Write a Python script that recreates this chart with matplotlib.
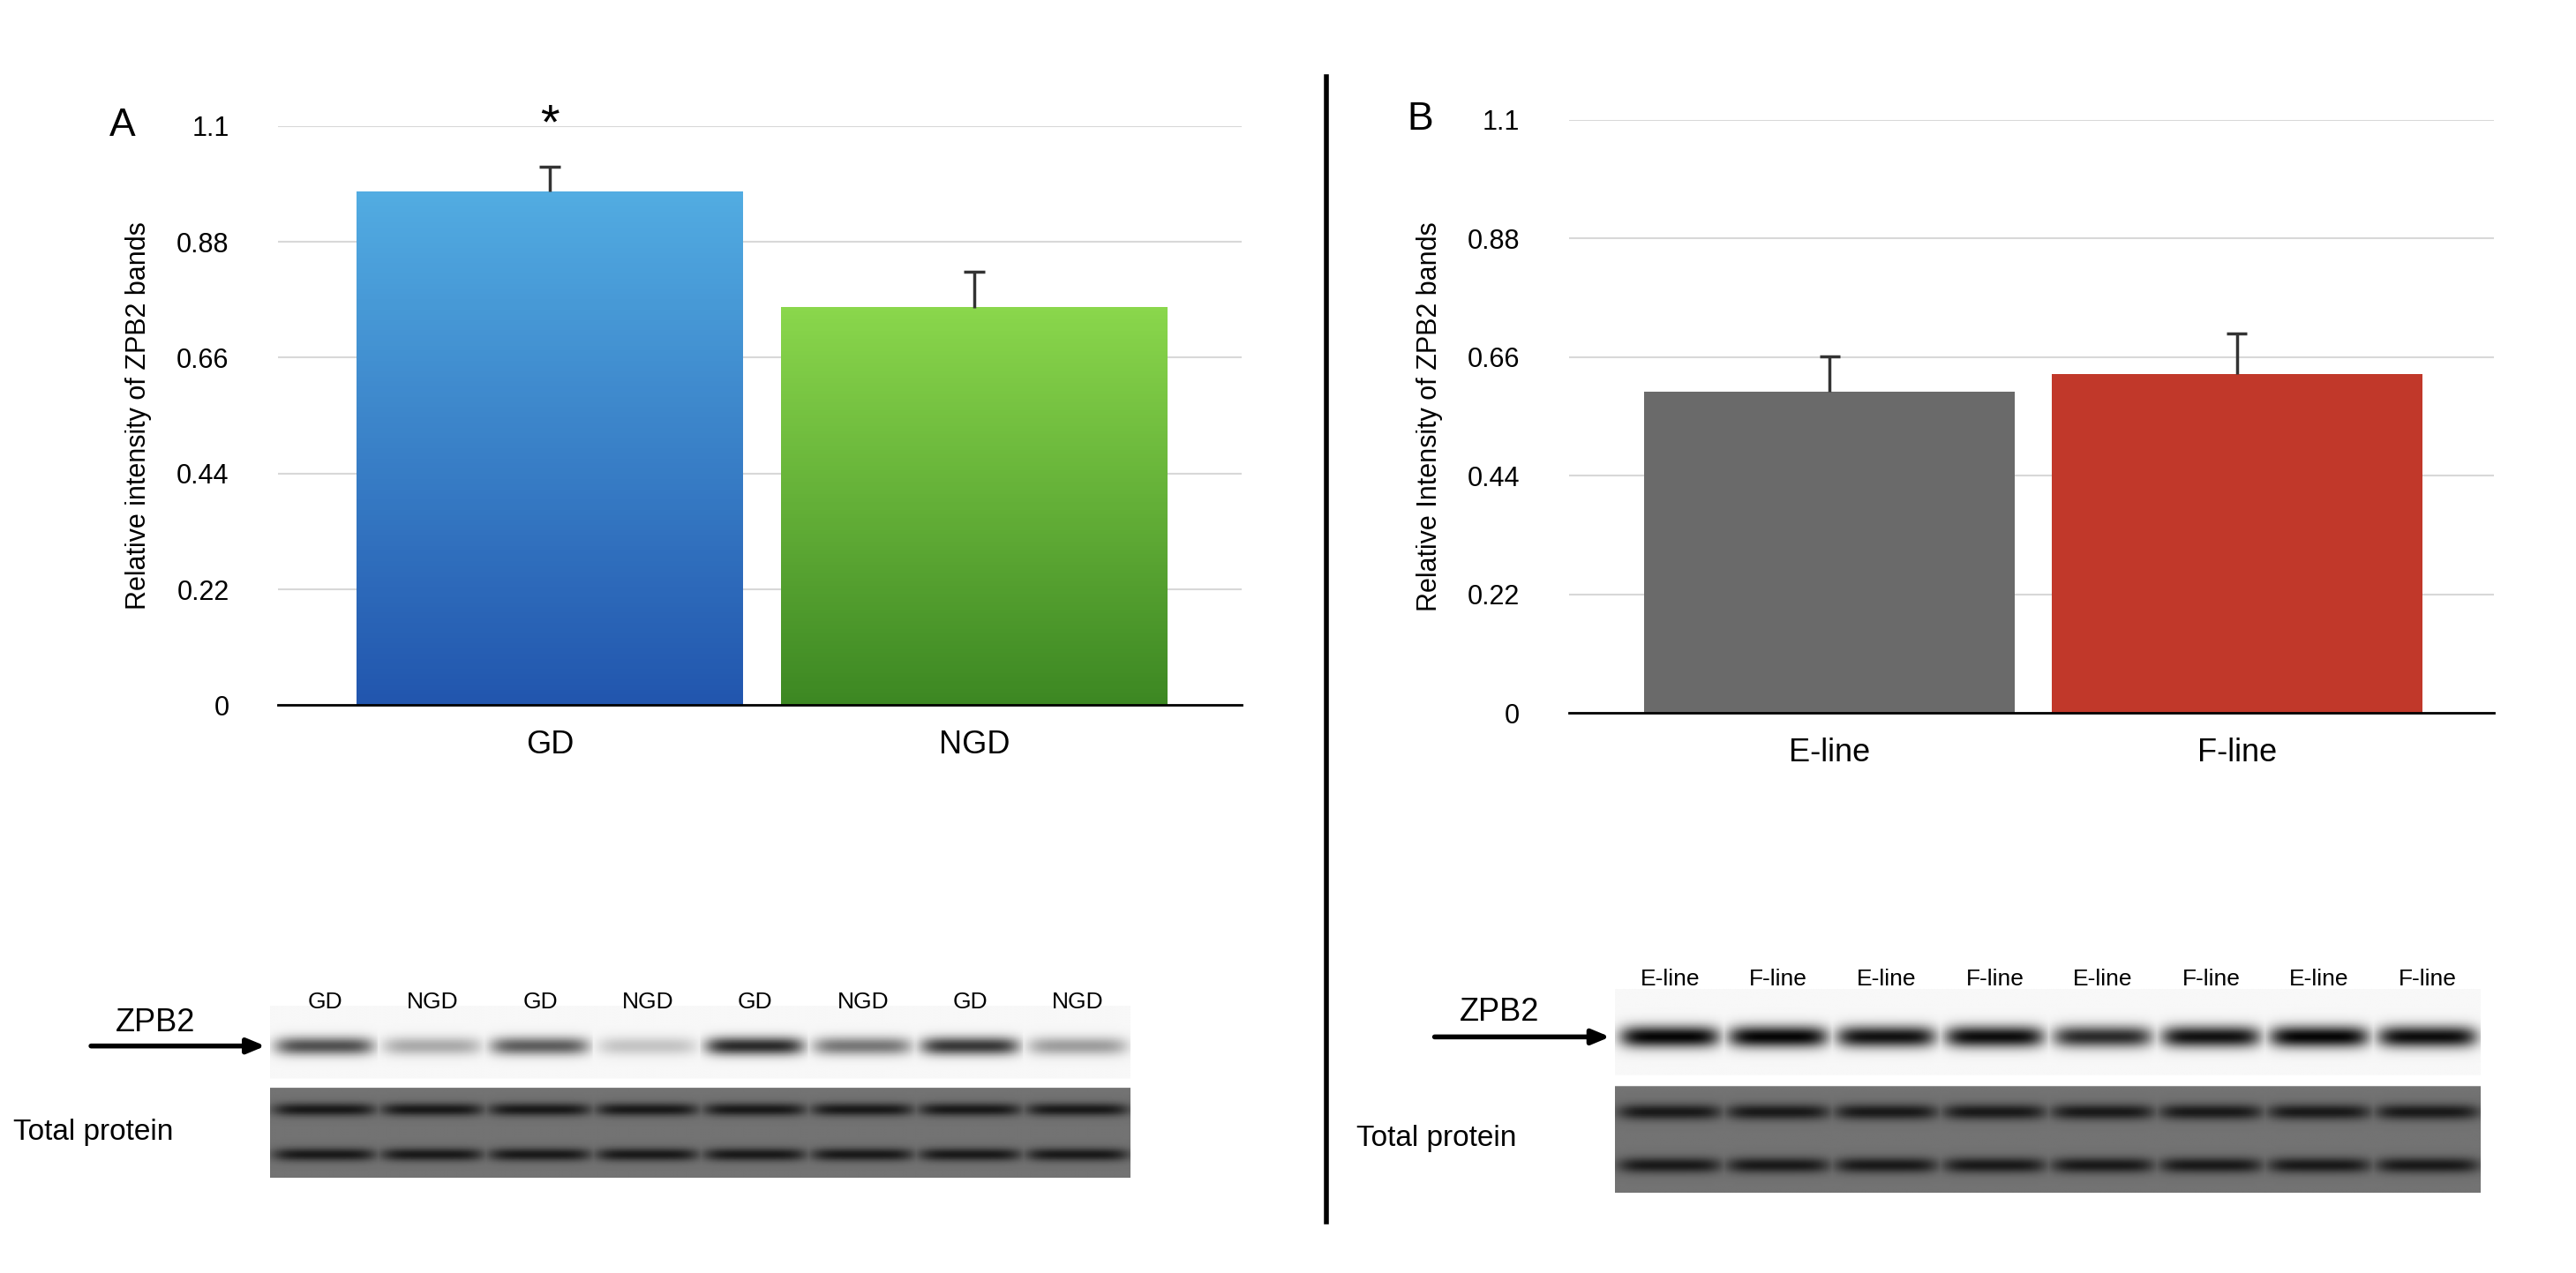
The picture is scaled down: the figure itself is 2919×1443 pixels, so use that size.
import matplotlib.pyplot as plt
import matplotlib.colors as mcolors
import numpy as np

# panel A
cats_a = ['GD', 'NGD']
vals_a = [0.975, 0.755]
errs_a = [0.048, 0.068]
# panel B
cats_b = ['E-line', 'F-line']
vals_b = [0.595, 0.628]
errs_b = [0.066, 0.075]
yticks = [0, 0.22, 0.44, 0.66, 0.88, 1.1]
ytick_labels = ['0', '0.22', '0.44', '0.66', '0.88', '1.1']

# blot lanes and band strengths (0..1)
lanes_a = ['GD', 'NGD', 'GD', 'NGD', 'GD', 'NGD', 'GD', 'NGD']
zpb2_a = [0.65, 0.3, 0.6, 0.2, 0.8, 0.5, 0.75, 0.35]
lanes_b = ['E-line', 'F-line', 'E-line', 'F-line', 'E-line', 'F-line', 'E-line', 'F-line']
zpb2_b = [0.95, 0.95, 0.9, 0.92, 0.8, 0.9, 0.95, 0.92]

grad_a = [('#52ace2', '#2256ae'), ('#8ad74c', '#3d8823')]
cols_b = ['#6a6a6a', '#c1382a']

W, H = 2919, 1443
fig = plt.figure(figsize=(W / 100, H / 100), dpi=100)
plt.rcParams['font.family'] = ['Liberation Sans', 'DejaVu Sans']


def bar_panel(rect, cats, vals, errs, label, ylab):
    ax = fig.add_axes(rect)
    ax.set_axisbelow(True)
    x = np.arange(len(cats))
    bars = ax.bar(x, vals, width=0.91, color='none', zorder=2)
    tops = np.array(vals) + np.array(errs)
    ax.vlines(x, vals, tops, color='#333333', lw=2.5, zorder=3)
    ax.hlines(tops, x - 0.025, x + 0.025, color='#333333', lw=2.5, zorder=3)
    ax.set_xlim(-0.64, 1.63)
    ax.set_ylim(0, 1.1)
    ax.set_yticks(yticks)
    ax.set_yticklabels(ytick_labels, fontsize=22)
    ax.set_xticks(x)
    ax.set_xticklabels(cats, fontsize=26)
    ax.tick_params(length=0, pad=20)
    ax.tick_params(axis='y', pad=40)
    ax.grid(axis='y', color='#d8d8d8', lw=1.5, zorder=0)
    for s in ['top', 'right', 'left']:
        ax.spines[s].set_visible(False)
    ax.spines['bottom'].set_linewidth(2)
    ax.set_ylabel(ylab, fontsize=22, labelpad=20)
    ax.text(-0.175, 1.0, label, transform=ax.transAxes, fontsize=32, va='center')
    return ax, bars


axa, bars_a = bar_panel([0.108, 0.446, 0.374, 0.455], cats_a, vals_a, errs_a, 'A',
                        'Relative intensity of ZPB2 bands')
for b, (top, bot) in zip(bars_a, grad_a):
    cm = mcolors.LinearSegmentedColormap.from_list('g', [bot, top])
    axa.imshow(np.linspace(0, 1, 100).reshape(-1, 1), cmap=cm, origin='lower', aspect='auto',
               extent=[b.get_x(), b.get_x() + b.get_width(), 0, b.get_height()], zorder=2)
axa.set_xlim(-0.64, 1.63)
axa.set_ylim(0, 1.1)
axa.text(0, 1.1, '*', ha='center', va='center', fontsize=40)

axb, bars_b = bar_panel([0.609, 0.44, 0.359, 0.466], cats_b, vals_b, errs_b, 'B',
                        'Relative Intensity of ZPB2 bands')
for b, c in zip(bars_b, cols_b):
    b.set_facecolor(c)


def blot(rect, lanes, zpb2, label_y):
    ax = fig.add_axes(rect)
    n = len(lanes)
    w = 60
    img = np.ones((130, n * w)) * 0.97
    yy = np.arange(130)[:, None]
    for i, s in enumerate(zpb2):
        xx = np.arange(w)[None, :]
        edge = np.exp(-((xx - w / 2) / (w * 0.46)) ** 6)
        band = np.exp(-((yy - 30) / 7.0) ** 2) * s * edge
        img[:, i * w:(i + 1) * w] -= band
    img[55:62, :] = 1
    img[62:, :] = 0.45
    for i in range(n):
        xx = np.arange(w)[None, :]
        edge = np.exp(-((xx - w / 2) / (w * 0.48)) ** 6)
        tp = 0.35 * (np.exp(-((yy - 78) / 5.0) ** 2) + np.exp(-((yy - 112) / 5.0) ** 2)) * edge
        img[62:, i * w:(i + 1) * w] -= tp[62:]
    ax.imshow(np.clip(img, 0, 1), cmap='gray', vmin=0, vmax=1, aspect='auto')
    ax.axis('off')
    for i, l in enumerate(lanes):
        ax.text(i * w + w / 2, label_y, l, ha='center', va='bottom', fontsize=19)
    ax.annotate('', xy=(-2, 30), xytext=(-w * 1.7, 30),
                arrowprops=dict(arrowstyle='-|>,head_length=1.2,head_width=0.5', lw=4, color='k'),
                annotation_clip=False)
    ax.text(-w * 1.45, 24, 'ZPB2', fontsize=26, va='bottom')
    ax.text(-w * 2.4, 95, 'Total protein', fontsize=24, va='center')
    return ax


blot([0.105, 0.075, 0.334, 0.135], lanes_a, zpb2_a, 5)
blot([0.627, 0.063, 0.336, 0.16], lanes_b, zpb2_b, 0)

fig.add_artist(plt.Line2D([0.515, 0.515], [0.04, 0.94], color='k', lw=4))

fig.savefig('out.png')
